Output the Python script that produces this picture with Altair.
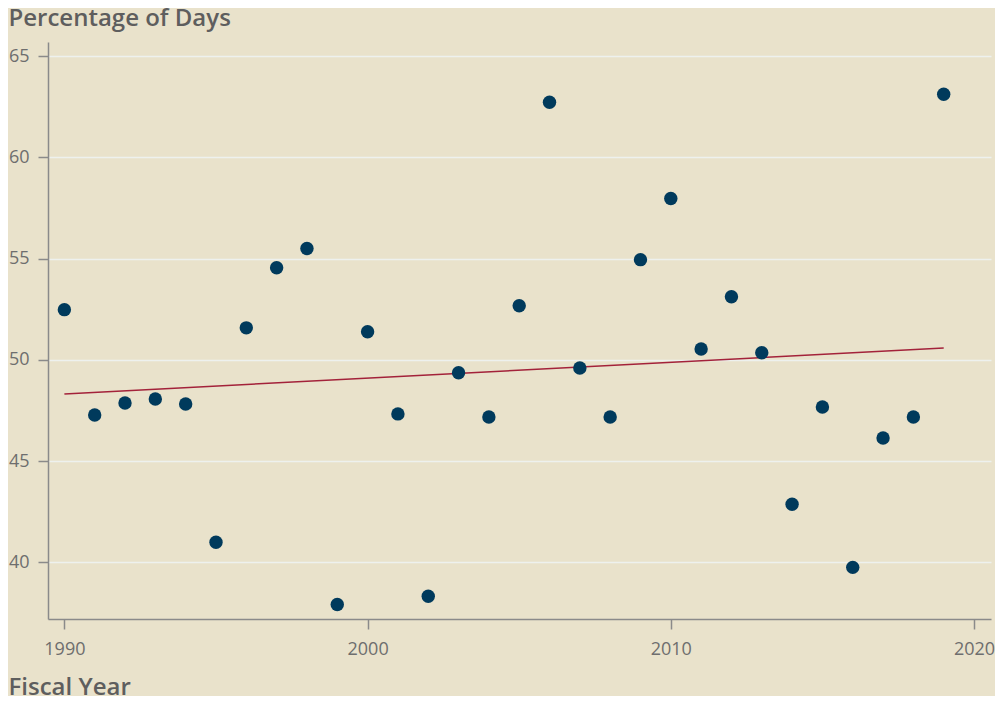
import altair as alt
import pandas as pd

years = list(range(1990, 2020))
pct = [52.48, 47.28, 47.87, 48.07, 47.82, 40.99, 51.58, 54.55, 55.50, 37.92,
       51.39, 47.33, 38.32, 49.36, 47.18, 52.67, 62.72, 49.60, 47.18, 54.95,
       57.97, 50.54, 53.12, 50.35, 42.87, 47.67, 39.75, 46.14, 47.18, 63.12]
x_ticks = [1990, 2000, 2010, 2020]
y_ticks = [40, 45, 50, 55, 60, 65]

df = pd.DataFrame({"year": years, "pct": pct})

FONT = "Open Sans"
BG = "#e9e2cb"

xs = alt.X("year:Q", scale=alt.Scale(domain=[1989.46, 2020.56], nice=False, zero=False),
           axis=alt.Axis(values=x_ticks, format="d", grid=False, title="Fiscal Year",
                         titleX=-40, titleY=75, titleAlign="left", titleAnchor="start",
                         titleBaseline="alphabetic", titleAngle=0))
ys = alt.Y("pct:Q", scale=alt.Scale(domain=[37.2, 65.7], nice=False, zero=False),
           axis=alt.Axis(values=y_ticks, grid=True, title="Percentage of Days",
                         titleX=-40, titleY=-17, titleAlign="left", titleAnchor="start",
                         titleBaseline="alphabetic", titleAngle=0))

points = alt.Chart(df).mark_circle(size=180, color="#003a5c", opacity=1).encode(x=xs, y=ys)

trend = alt.Chart(df).transform_regression("year", "pct").mark_line(
    color="#a3223a", strokeWidth=1.5).encode(x="year:Q", y="pct:Q")

chart = alt.layer(trend, points).properties(
    width=943, height=577, background=BG,
    autosize=alt.AutoSizeParams(type="none"),
    padding={"left": 40, "top": 34, "right": 4, "bottom": 77},
).configure_view(stroke=None, fill=BG).configure_axis(
    labelFont=FONT, titleFont=FONT, labelFontSize=18, labelColor="#6e6e6e",
    titleFontSize=24, titleFontWeight=600, titleColor="#5e5e5e",
    domainColor="#8a8a8a", domainWidth=1.5, tickColor="#8a8a8a", tickWidth=1.5,
    tickSize=10, labelPadding=9, gridColor="#eef1ee", gridWidth=1.5,
).configure_axisX(labelPadding=11)

chart.save("out.html", embed_options={"renderer": "svg", "actions": False})
